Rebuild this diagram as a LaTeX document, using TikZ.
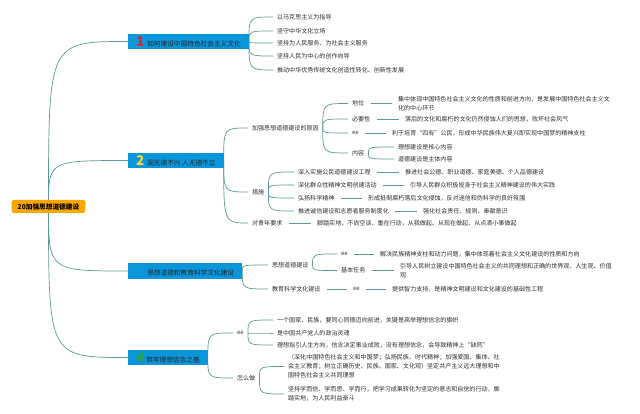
\documentclass[tikz,border=0pt]{standalone}
\usepackage{fontspec}
\setmainfont{Noto Sans CJK SC}
\usepackage{xcolor}
\usepackage{tikz}
\usetikzlibrary{backgrounds}
\definecolor{corange}{RGB}{247, 168, 0}
\definecolor{cblue}{RGB}{10, 150, 218}
\definecolor{clink}{RGB}{90, 152, 148}
\definecolor{ctext}{RGB}{45, 45, 45}
\definecolor{cred}{RGB}{226, 32, 44}
\definecolor{cyellow}{RGB}{250, 218, 45}
\definecolor{cgreen}{RGB}{40, 160, 70}
\newcommand{\leaffont}{\fontsize{8.6}{12.8}\selectfont}
\newcommand{\hubfont}{\fontsize{9.5}{11}\selectfont}
\newcommand{\bnum}[2]{{\color{#1}\fontsize{19}{19}\selectfont\bfseries #2}}

\begin{document}
\begin{tikzpicture}[
  x=0.05cm, y=-0.05cm,
  font=\leaffont,
  hub/.style={rectangle, rounded corners=3pt, fill=corange, text=black, font=\hubfont\bfseries, minimum height=0.65cm, inner xsep=0.3cm, inner ysep=0pt},
  mainbox/.style={rectangle, fill=cblue, text=black!85, font=\hubfont, minimum height=0.78cm, inner xsep=0.4cm, inner ysep=0pt, anchor=west},
  topic/.style={text=ctext, inner xsep=0.2cm, inner ysep=1pt, anchor=west, align=left},
  link/.style={draw=clink, line width=1pt},
  curvy/.style={to path={.. controls (\tikztostart |- \tikztotarget) .. (\tikztotarget)}},
  tieline/.style={link, shorten <=0.12cm, shorten >=0.12cm},
]
\useasboundingbox (0,0) rectangle (640,414);

% ---- Root ----
\node[hub] (root) at (48.5, 206.5) {20加强思想道德建设};

% ---- Main branches ----
\node[mainbox] (b1) at (128, 41.5) {\bnum{cred}{1}\hspace{0.15cm}如何建设中国特色社会主义文化};
\node[mainbox] (b2) at (128, 160.5) {\bnum{cyellow}{2}\hspace{0.15cm}国无德不兴 人无德不立};
\node[mainbox] (b3) at (128, 271) {\phantom{\bnum{cblue}{3}}\hspace{0.15cm}思想道德和教育科学文化建设};
\node[mainbox] (b4) at (128, 357.5) {\bnum{cgreen}{4}\hspace{0.1cm}筑牢理想信念之基};

% ---- Branch 1 ----
\node[topic] (l11) at (273, 17) {以马克思主义为指导};
\node[topic] (l12) at (273, 31) {坚守中华文化立场};
\node[topic] (l13) at (273, 43) {坚持为人民服务、为社会主义服务};
\node[topic] (l14) at (273, 56) {坚持人民为中心的创作向导};
\node[topic] (l15) at (273, 70) {推动中华优秀传统文化创造性转化、创新性发展};

% ---- Branch 2 ----
\node[topic] (c21) at (248, 128) {加强思想道德建设的原因};
\node[topic] (c22) at (248, 192) {措施};
\node[topic] (c23) at (248, 223) {对青年要求};

\node[topic] (d1) at (348, 103.5) {地位};
\node[topic] (d2) at (348, 119) {必要性};
\node[topic] (d3) at (348, 133) {ee};
\node[topic] (d4) at (348, 153) {内容};

\node[topic] (e1) at (394, 103.5) {集中体现中国特色社会主义文化的性质和前进方向，是发展中国特色社会主义文\\化的中心环节};
\node[topic] (e2) at (401, 119) {落后的文化和腐朽的文化仍然侵蚀人们的思想，败坏社会风气};
\node[topic] (e3) at (388, 133) {利于培育“四有”公民，形成中华民族伟大复兴即实现中国梦的精神支柱};
\node[topic] (f1) at (394, 147) {理想建设是核心内容};
\node[topic] (f2) at (394, 159) {道德建设是主体内容};

\node[topic] (g1) at (294, 172) {深入实施公民道德建设工程};
\node[topic] (g2) at (294, 185) {深化群众性精神文明创建活动};
\node[topic] (g3) at (294, 198) {弘扬科学精神};
\node[topic] (g4) at (294, 211) {推进诚信建设和志愿者服务制度化};

\node[topic] (h1) at (401, 172) {推进社会公德、职业道德、家庭美德、个人品德建设};
\node[topic] (h2) at (406, 185) {引导人民群众积极投身于社会主义精神建设的伟大实践};
\node[topic] (h3) at (364, 198) {形成抵制腐朽落后文化侵蚀，反对迷信和伪科学的良好氛围};
\node[topic] (h4) at (419, 211) {强化社会责任、规则、奉献意识};

\node[topic] (k1) at (313, 223) {脚踏实地、不尚空谈、重在行动，从我做起、从现在做起、从点滴小事做起};

% ---- Branch 3 ----
\node[topic] (m1) at (268, 265) {思想道德建设};
\node[topic] (m2) at (268, 289) {教育科学文化建设};

\node[topic] (n1) at (337, 254) {ee};
\node[topic] (n2) at (337, 270.5) {基本任务};
\node[topic] (n3) at (349, 289) {ee};

\node[topic] (p1) at (376, 254) {解决民族精神支柱和动力问题，集中体现着社会主义文化建设的性质和方向};
\node[topic] (p2) at (396, 270.5) {引导人民树立建设中国特色社会主义的共同理想和正确的世界观、人生观、价值\\观};
\node[topic] (p3) at (388, 289) {提供智力支持，是精神文明建设和文化建设的基础性工程};

% ---- Branch 4 ----
\node[topic] (q1) at (233, 333) {ee};
\node[topic] (q2) at (233, 378) {怎么做};

\node[topic] (r1) at (273, 320) {一个国家、民族，要同心同德迈向前进，关键是高举理想信念的旗帜};
\node[topic] (r2) at (273, 333) {是中国共产党人的政治灵魂};
\node[topic] (r3) at (273, 345) {理想指引人生方向，信念决定事业成败，没有理想信念，会导致精神上“缺钙”};

\node[topic] (s1) at (284, 366.5) {（深化中国特色社会主义和中国梦；弘扬民族、时代精神；加强爱国、集体、社\\会主义教育；树立正确历史、民族、国家、文化观）坚定共产主义远大理想和中\\国特色社会主义共同理想};
\node[topic] (s2) at (284, 394) {坚持学而信、学而思、学而行，把学习成果转化为坚定的意志和自觉的行动，脚\\踏实地，为人民利益奋斗};

% ---- Connectors ----
\begin{scope}[on background layer]
  \draw[link] (root.center) to[curvy] (b1.west);
  \draw[link] (root.center) to[curvy] (b2.west);
  \draw[link] (root.center) to[curvy] (b3.west);
  \draw[link] (root.center) to[curvy] (b4.west);

  \draw[link] (b1.east) to[curvy] (l11.west);
  \draw[link] (b1.east) to[curvy] (l12.west);
  \draw[link] (b1.east) to[curvy] (l13.west);
  \draw[link] (b1.east) to[curvy] (l14.west);
  \draw[link] (b1.east) to[curvy] (l15.west);

  \draw[link] (b2.east) to[curvy] (c21.west);
  \draw[link] (b2.east) to[curvy] (c22.west);
  \draw[link] (b2.east) to[curvy] (c23.west);
  \draw[link] (c21.east) to[curvy] (d1.west);
  \draw[link] (c21.east) to[curvy] (d2.west);
  \draw[link] (c21.east) to[curvy] (d3.west);
  \draw[link] (c21.east) to[curvy] (d4.west);
  \draw[tieline] (d1.east) -- (e1.west);
  \draw[tieline] (d2.east) -- (e2.west);
  \draw[tieline] (d3.east) -- (e3.west);
  \draw[link] (d4.east) to[curvy] (f1.west);
  \draw[link] (d4.east) to[curvy] (f2.west);
  \draw[link] (c22.east) to[curvy] (g1.west);
  \draw[link] (c22.east) to[curvy] (g2.west);
  \draw[link] (c22.east) to[curvy] (g3.west);
  \draw[link] (c22.east) to[curvy] (g4.west);
  \draw[tieline] (g1.east) -- (h1.west);
  \draw[tieline] (g2.east) -- (h2.west);
  \draw[tieline] (g3.east) -- (h3.west);
  \draw[tieline] (g4.east) -- (h4.west);
  \draw[tieline] (c23.east) -- (k1.west);

  \draw[link] (b3.east) to[curvy] (m1.west);
  \draw[link] (b3.east) to[curvy] (m2.west);
  \draw[link] (m1.east) to[curvy] (n1.west);
  \draw[link] (m1.east) to[curvy] (n2.west);
  \draw[tieline] (n1.east) -- (p1.west);
  \draw[tieline] (n2.east) -- (p2.west);
  \draw[tieline] (m2.east) -- (n3.west);
  \draw[tieline] (n3.east) -- (p3.west);

  \draw[link] (b4.east) to[curvy] (q1.west);
  \draw[link] (b4.east) to[curvy] (q2.west);
  \draw[link] (q1.east) to[curvy] (r1.west);
  \draw[link] (q1.east) to[curvy] (r2.west);
  \draw[link] (q1.east) to[curvy] (r3.west);
  \draw[link] (q2.east) to[curvy] (s1.west);
  \draw[link] (q2.east) to[curvy] (s2.west);
\end{scope}

\end{tikzpicture}
\end{document}
